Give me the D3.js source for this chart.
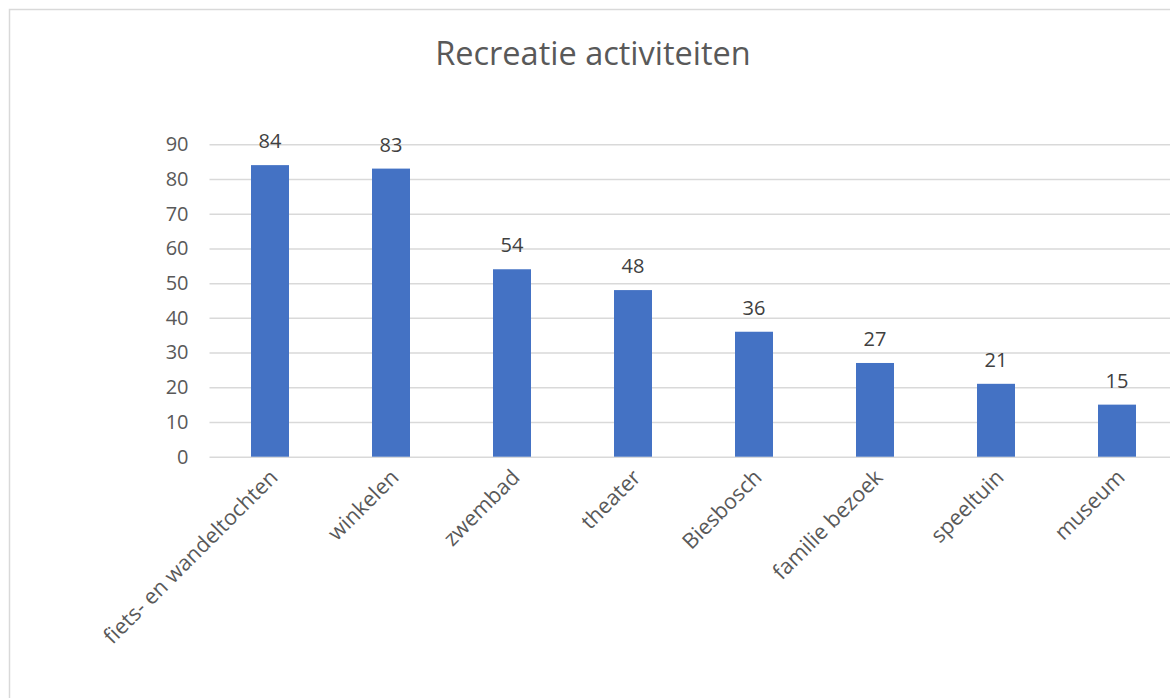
<!DOCTYPE html>
<html><head><meta charset="utf-8">
<script src="https://cdn.jsdelivr.net/npm/d3@7"></script>
<style>body{margin:0;background:#fff;}svg{display:block;}</style>
</head><body>
<svg id="c" width="1170" height="698"></svg>
<script>
const categories = ["fiets- en wandeltochten","winkelen","zwembad","theater","Biesbosch","familie bezoek","speeltuin","museum"];
const values = [84,83,54,48,36,27,21,15];
const yTicks = [0,10,20,30,40,50,60,70,80,90];
const title = "Recreatie activiteiten";

(function(){
const svg = d3.select("#c");
const font = "'Open Sans', 'Noto Sans', sans-serif";
svg.append("rect").attr("x",9.5).attr("y",9.5).attr("width",1180).attr("height",720)
  .attr("fill","#fff").attr("stroke","#d9d9d9").attr("stroke-width",1.5);

const pLeft=209.5, pRight=1177.5, pTop=144.3, pBottom=456.7;
const x = d3.scaleBand().domain(categories).range([pLeft,pRight]).paddingInner(0.686).paddingOuter(0.343);
const y = d3.scaleLinear().domain([0,90]).range([pBottom,pTop]);

svg.append("text").attr("x",593).attr("y",65).attr("text-anchor","middle")
  .attr("font-family",font).attr("font-size",32.5).attr("fill","#595959").text(title);

const ya = d3.axisLeft(y).tickValues(yTicks).tickSize(-(pRight-pLeft)).tickPadding(21);
const g = svg.append("g").attr("transform",`translate(${pLeft},0)`).call(ya);
g.select(".domain").remove();
g.selectAll(".tick line").attr("stroke","#d9d9d9").attr("stroke-width",1.5);
g.selectAll(".tick text").attr("font-family",font).attr("font-size",20).attr("fill","#595959");

svg.selectAll(".bar").data(values).enter().append("rect")
  .attr("x",(d,i)=>x(categories[i])).attr("width",x.bandwidth())
  .attr("y",d=>y(d)).attr("height",d=>pBottom-y(d)).attr("fill","#4472c4");

svg.selectAll(".lbl").data(values).enter().append("text")
  .attr("x",(d,i)=>x(categories[i])+x.bandwidth()/2).attr("y",d=>y(d)-17)
  .attr("text-anchor","middle").attr("font-family",font).attr("font-size",20).attr("fill","#404040").text(d=>d);

const xa = d3.axisBottom(x).tickSize(0).tickPadding(0);
const gx = svg.append("g").attr("transform",`translate(0,${pBottom})`).call(xa);
gx.select(".domain").remove();
gx.selectAll(".tick text").attr("font-family",font).attr("font-size",21.5).attr("fill","#595959")
  .attr("text-anchor","end").attr("dy",0).attr("y",0)
  .attr("transform","translate(9,22) rotate(-45)");
})();
</script>
</body></html>
